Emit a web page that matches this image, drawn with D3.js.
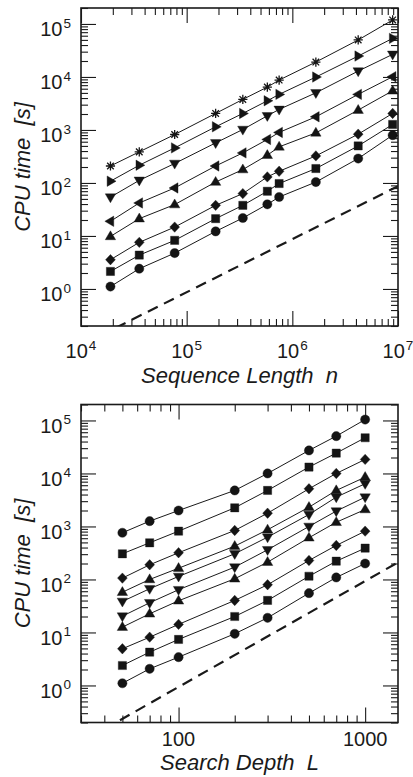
<!DOCTYPE html>
<html>
<head>
<meta charset="utf-8">
<script src="https://cdn.jsdelivr.net/npm/d3@7"></script>
<style>
body { margin: 0; background: #fff; }
text { font-family: "Liberation Sans", Arial, sans-serif; fill: #1a1a1a; }
</style>
</head>
<body>
<div id="chart"></div>
<script>
// top panel: CPU time against sequence length n
const seqLengths = [1.9e4, 3.56e4, 7.7e4, 1.88e5, 3.4e5, 5.8e5, 7.5e5, 1.67e6, 4.2e6, 8.9e6];
const seqStar    = [209, 386, 820, 2050, 3770, 6440, 8730, 19100, 49900, 119000];
const seqRight   = [108, 216, 459, 1146, 2050, 3550, 4690, 9960, 24800, 53500];
const seqDown    = [54, 112, 233, 570, 1020, 1850, 2440, 5020, 12900, 26700];
const seqLeft    = [18.9, 41.9, 80.5, 209, 369, 661, 898, 1770, 4690, 10100];
const seqUp      = [9.8, 21.2, 39.1, 104, 179, 334, 480, 881, 2370, 5480];
const seqDiamond = [3.56, 7.57, 14.7, 37.8, 63, 130, 166, 324, 833, 2050];
const seqSquare  = [2.14, 4.35, 8.26, 21.2, 37.8, 69.7, 97.5, 187, 500, 1270];
const seqCircle  = [1.11, 2.41, 4.75, 12.2, 21.8, 39.5, 54.3, 104, 289, 798];
const seqRefN = [1.5e4, 1e7];
const seqRefT = [0.13, 87];

// bottom panel: CPU time against search depth L
const depths = [50, 70, 100, 200, 300, 500, 700, 1000];
const depCircle1  = [760, 1260, 2000, 4780, 10000, 27200, 50600, 104000];
const depSquare1  = [305, 492, 815, 2250, 4780, 13200, 24200, 47200];
const depDiamond1 = [106, 189, 319, 841, 1780, 5140, 10000, 18400];
const depUp1      = [57.5, 100, 163, 425, 867, 2310, 4780, 8510];
const depDown1    = [38.5, 66.8, 114, 305, 628, 1680, 3570, 6400];
const depDown2    = [20.3, 36.3, 64, 171, 363, 1000, 1950, 3570];
const depUp2      = [12.6, 22.5, 39.6, 103, 212, 612, 1200, 2090];
const depDiamond2 = [4.92, 8.15, 14.2, 40.2, 79.4, 228, 438, 815];
const depSquare2  = [2.38, 4.25, 7.38, 20, 40.2, 115, 221, 390];
const depCircle2  = [1.1, 2.06, 3.42, 9.44, 18.9, 55.2, 109, 200];
const depRefL = [40, 1500];
const depRefT = [0.15, 210];

const yTicks = [1, 10, 100, 1000, 1e4, 1e5];
const seqTicks = [1e4, 1e5, 1e6, 1e7];
const depTicks = [100, 1000];

const W = 413, H = 777;
const svg = d3.select("#chart").append("svg")
    .attr("width", W).attr("height", H)
    .style("display", "block");

const markers = {
    circle: d3.symbol(d3.symbolCircle, Math.PI * 4.6 * 4.6)(),
    square: "M-4.1,-4.1H4.1V4.1H-4.1Z",
    diamond: "M0,-5.2L4.9,0L0,5.2L-4.9,0Z",
    up: "M0,-5.6L5.2,3.3L-5.2,3.3Z",
    down: "M0,5.6L5.2,-3.3L-5.2,-3.3Z",
    left: "M-5.6,0L3.3,-5.2L3.3,5.2Z",
    right: "M5.6,0L-3.3,-5.2L-3.3,5.2Z",
    star: "M0,-4.6V4.6M-4.6,0H4.6M-3.3,-3.3L3.3,3.3M-3.3,3.3L3.3,-3.3"
};

function minorTicks(domain) {
    const out = [];
    const lo = Math.floor(Math.log10(domain[0])), hi = Math.ceil(Math.log10(domain[1]));
    for (let e = lo; e <= hi; e++) {
        for (let k = 2; k <= 9; k++) {
            const v = k * Math.pow(10, e);
            if (v >= domain[0] && v <= domain[1]) out.push(v);
        }
    }
    return out;
}

function powLabel(sel, v) {
    const e = Math.round(Math.log10(v));
    sel.text(null);
    sel.append("tspan").text("10");
    sel.append("tspan").attr("dy", -8.5).attr("dx", 1).style("font-size", "13.5px").text(e);
}

let clipId = 0;
function drawPanel(cfg) {
    const { top, xDomain, xMajor, xPow, xTitle, xVals, series, refX, refY } = cfg;
    const left = 81, right = 398, height = 318;
    const x = d3.scaleLog().domain(xDomain).range([left, right]);
    const y = d3.scaleLog().domain([0.2, 2e5]).range([top + height, top]);
    const g = svg.append("g");
    const bottom = top + height;

    const id = "clip" + (clipId++);
    g.append("clipPath").attr("id", id)
        .append("rect").attr("x", left).attr("y", top)
        .attr("width", right - left).attr("height", height);

    const axes = [
        [d3.axisBottom(x), `translate(0,${bottom})`, x],
        [d3.axisTop(x), `translate(0,${top})`, x],
        [d3.axisLeft(y), `translate(${left},0)`, y],
        [d3.axisRight(y), `translate(${right},0)`, y]
    ];
    axes.forEach(([ax, tr, sc], i) => {
        const major = i < 2 ? xMajor : yTicks;
        g.append("g").attr("transform", tr)
            .call(ax.tickValues(minorTicks(sc.domain())).tickSize(-7).tickSizeOuter(0).tickFormat(""))
            .call(a => a.select(".domain").remove());
        g.append("g").attr("transform", tr)
            .call(ax.tickValues(major).tickSize(-15).tickSizeOuter(0).tickFormat(""))
            .call(a => a.select(".domain").remove());
    });
    g.selectAll(".tick line").attr("stroke", "#1a1a1a").attr("stroke-width", 1.1);

    // tick labels
    g.selectAll(".ylab").data(yTicks).enter().append("text")
        .attr("x", 71).attr("y", d => y(d) + 12.5)
        .attr("text-anchor", "end").style("font-size", "20px")
        .each(function (d) { powLabel(d3.select(this), d); });

    g.selectAll(".xlab").data(xMajor).enter().append("text")
        .attr("x", d => x(d)).attr("y", bottom + (xPow ? 32 : 23.5))
        .attr("text-anchor", "middle").style("font-size", "20px")
        .each(function (d) {
            if (xPow) powLabel(d3.select(this), d);
            else d3.select(this).text(d);
        });

    g.append("text")
        .attr("x", (left + right) / 2).attr("y", bottom + cfg.titleOffset)
        .attr("text-anchor", "middle").style("font-size", "22px").style("font-style", "italic")
        .text(xTitle);

    g.append("text")
        .attr("transform", `translate(30,${top + height / 2}) rotate(-90)`)
        .attr("text-anchor", "middle").style("font-size", "22px").style("font-style", "italic")
        .text("CPU time\u00a0\u00a0[s]");

    const plot = g.append("g").attr("clip-path", `url(#${id})`);

    // reference power law
    plot.append("path")
        .attr("d", d3.line().x(d => x(d[0])).y(d => y(d[1]))(d3.zip(refX, refY)))
        .attr("fill", "none").attr("stroke", "#1a1a1a")
        .attr("stroke-width", 2.2).attr("stroke-dasharray", "11,7");

    const line = d3.line().x(d => x(d[0])).y(d => y(d[1]));
    series.forEach(s => {
        const pts = d3.zip(xVals, s.values);
        plot.append("path").attr("d", line(pts))
            .attr("fill", "none").attr("stroke", "#1a1a1a").attr("stroke-width", 1);
        plot.selectAll(null).data(pts).enter().append("path")
            .attr("transform", d => `translate(${x(d[0])},${y(d[1])})`)
            .attr("d", markers[s.shape])
            .attr("fill", s.shape === "star" ? "none" : "#141414")
            .attr("stroke", "#141414")
            .attr("stroke-width", s.shape === "star" ? 1.3 : 0.4);
    });

    g.append("rect")
        .attr("x", left).attr("y", top)
        .attr("width", right - left).attr("height", height)
        .attr("fill", "none").attr("stroke", "#1a1a1a").attr("stroke-width", 1.6);
}

drawPanel({
    top: 8,
    xDomain: [1e4, 1e7],
    xMajor: seqTicks,
    xPow: true,
    xTitle: "Sequence Length\u00a0\u00a0n",
    titleOffset: 57,
    xVals: seqLengths,
    refX: seqRefN, refY: seqRefT,
    series: [
        { shape: "star", values: seqStar },
        { shape: "right", values: seqRight },
        { shape: "down", values: seqDown },
        { shape: "left", values: seqLeft },
        { shape: "up", values: seqUp },
        { shape: "diamond", values: seqDiamond },
        { shape: "square", values: seqSquare },
        { shape: "circle", values: seqCircle }
    ]
});

drawPanel({
    top: 404.5,
    xDomain: [30, 1500],
    xMajor: depTicks,
    xPow: false,
    xTitle: "Search Depth\u00a0\u00a0L",
    titleOffset: 47.5,
    xVals: depths,
    refX: depRefL, refY: depRefT,
    series: [
        { shape: "circle", values: depCircle1 },
        { shape: "square", values: depSquare1 },
        { shape: "diamond", values: depDiamond1 },
        { shape: "up", values: depUp1 },
        { shape: "down", values: depDown1 },
        { shape: "down", values: depDown2 },
        { shape: "up", values: depUp2 },
        { shape: "diamond", values: depDiamond2 },
        { shape: "square", values: depSquare2 },
        { shape: "circle", values: depCircle2 }
    ]
});
</script>
</body>
</html>
